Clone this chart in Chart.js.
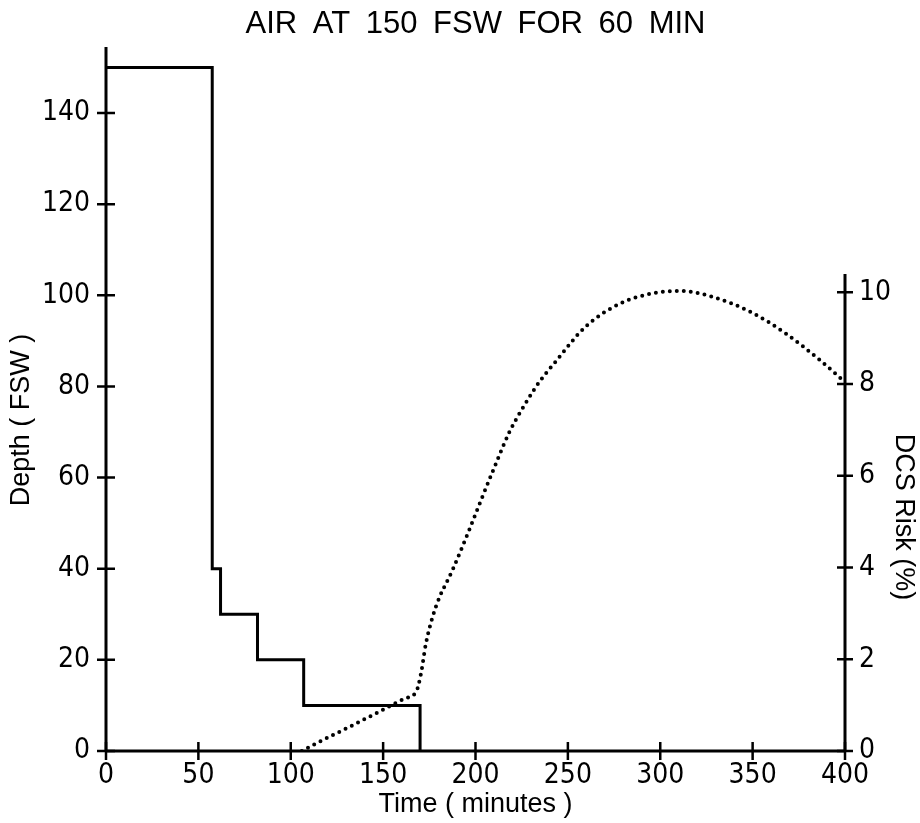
<!DOCTYPE html>
<html>
<head>
<meta charset="utf-8">
<script src="https://cdn.jsdelivr.net/npm/chart.js@4.4.1/dist/chart.umd.min.js"></script>
<style>
  html, body { margin: 0; padding: 0; background: #fff; }
  canvas { display: block; }
</style>
</head>
<body>
<canvas id="myChart" width="920" height="823"></canvas>
<script>
const titleText = 'AIR AT 150 FSW FOR 60 MIN';
const timeTitle = 'Time ( minutes )';
const depthTitle = 'Depth ( FSW )';
const riskTitle = 'DCS Risk (%)';

// dive profile: time each stop starts (min) and its depth (fsw)
const depthTimes = [0, 57.5, 62, 82, 107, 170];
const depthFsw = [150, 40, 30, 20, 10, 0];

// DCS risk curve
const riskTimes = [106, 112, 130, 148, 162, 168, 170.5, 173.2, 178.6, 187.6, 196.6, 203,
                   211.1, 218.3, 227.4, 234.6, 243.6, 259.5, 278, 296, 310.5, 328.5, 350, 368, 386.5, 399];
const riskPct = [0, 0.13, 0.49, 0.86, 1.15, 1.3, 1.69, 2.35, 3.15, 3.95, 4.82, 5.47,
                 6.27, 6.95, 7.6, 8.05, 8.5, 9.25, 9.75, 9.98, 10.03, 9.9, 9.55, 9.1, 8.52, 8.08];

const timeTicks = [0, 50, 100, 150, 200, 250, 300, 350, 400];
const depthTicks = [0, 20, 40, 60, 80, 100, 120, 140];
const riskTicks = [0, 2, 4, 6, 8, 10];

const FONT = "'Liberation Sans', Arial, sans-serif";
const NARROW = "'Liberation Sans Narrow', 'DejaVu Sans Condensed', 'Liberation Sans', sans-serif";

// axes lines, cross-shaped ticks, title and axis titles
const axesPlugin = {
  id: 'axesPlugin',
  afterDraw(chart) {
    const ctx = chart.ctx;
    const sx = chart.scales.x, sy = chart.scales.y, sr = chart.scales.y2;
    const a = chart.chartArea;
    ctx.save();
    ctx.strokeStyle = '#000';
    ctx.lineWidth = 3;
    ctx.beginPath();
    ctx.moveTo(a.left, a.bottom);
    ctx.lineTo(a.right, a.bottom);
    ctx.moveTo(a.left, a.bottom);
    ctx.lineTo(a.left, a.top);
    // right axis stops a bit above 10 %
    ctx.moveTo(a.right, sr.getPixelForValue(0));
    ctx.lineTo(a.right, sr.getPixelForValue(10.4));
    ctx.stroke();

    ctx.lineWidth = 2.5;
    ctx.beginPath();
    timeTicks.forEach(function(v) {
      const px = sx.getPixelForValue(v);
      ctx.moveTo(px, a.bottom - 9);
      ctx.lineTo(px, a.bottom + 9);
    });
    depthTicks.forEach(function(v) {
      const py = sy.getPixelForValue(v);
      ctx.moveTo(a.left - 9, py);
      ctx.lineTo(a.left + 9, py);
    });
    riskTicks.forEach(function(v) {
      const py = sr.getPixelForValue(v);
      ctx.moveTo(a.right - 8, py);
      ctx.lineTo(a.right + 8, py);
    });
    ctx.stroke();

    ctx.fillStyle = '#000';
    ctx.textAlign = 'center';
    ctx.textBaseline = 'middle';
    ctx.font = '31px ' + FONT;
    ctx.wordSpacing = '7px';
    ctx.fillText(titleText, (a.left + a.right) / 2, 24);
    ctx.wordSpacing = '0px';
    ctx.font = '27px ' + FONT;
    ctx.fillText(timeTitle, (a.left + a.right) / 2, a.bottom + 54);
    ctx.save();
    ctx.translate(22, (a.top + a.bottom) / 2 + 21);
    ctx.rotate(-Math.PI / 2);
    ctx.fillText(depthTitle, 0, 0);
    ctx.restore();
    ctx.save();
    ctx.translate(a.right + 58, (a.top + a.bottom) / 2 + 118);
    ctx.rotate(Math.PI / 2);
    ctx.fillText(riskTitle, 0, 0);
    ctx.restore();
    ctx.restore();
  }
};

const tickFont = { size: 28, family: NARROW };

const ctx = document.getElementById('myChart').getContext('2d');
const myChart = new Chart(ctx, {
  type: 'line',
  data: {
    datasets: [
      {
        label: 'Depth',
        data: depthTimes.map(function(t, i) { return { x: t, y: depthFsw[i] }; }),
        yAxisID: 'y',
        borderColor: '#000',
        borderWidth: 3,
        stepped: 'before',
        pointRadius: 0,
        fill: false
      },
      {
        label: 'DCS Risk',
        data: riskTimes.map(function(t, i) { return { x: t, y: riskPct[i] }; }),
        yAxisID: 'y2',
        borderColor: '#000',
        borderWidth: 4,
        borderDash: [0, 7],
        borderCapStyle: 'round',
        cubicInterpolationMode: 'monotone',
        pointRadius: 0,
        fill: false
      }
    ]
  },
  options: {
    responsive: false,
    animation: false,
    devicePixelRatio: 1,
    layout: { padding: { top: 47 } },
    plugins: {
      legend: { display: false },
      tooltip: { enabled: false },
      title: { display: false }
    },
    scales: {
      x: {
        type: 'linear',
        position: 'bottom',
        min: 0,
        max: 400,
        afterBuildTicks: function(s) { s.ticks = timeTicks.map(function(v) { return { value: v }; }); },
        afterFit: function(s) { s.height = 72; },
        ticks: { color: '#000', font: tickFont, padding: 8, maxRotation: 0, autoSkip: false },
        grid: { display: false, drawTicks: false },
        border: { display: false }
      },
      y: {
        position: 'left',
        min: 0,
        max: 154.5,
        afterBuildTicks: function(s) { s.ticks = depthTicks.map(function(v) { return { value: v }; }); },
        afterFit: function(s) { s.width = 106; },
        ticks: { color: '#000', font: tickFont, padding: 16, autoSkip: false },
        grid: { display: false, drawTicks: false },
        border: { display: false }
      },
      y2: {
        position: 'right',
        min: 0,
        max: 15.35,
        afterBuildTicks: function(s) { s.ticks = riskTicks.map(function(v) { return { value: v }; }); },
        afterFit: function(s) { s.width = 75; },
        ticks: { color: '#000', font: tickFont, padding: 14, autoSkip: false },
        grid: { display: false, drawTicks: false },
        border: { display: false }
      }
    }
  },
  plugins: [axesPlugin]
});
</script>
</body>
</html>
